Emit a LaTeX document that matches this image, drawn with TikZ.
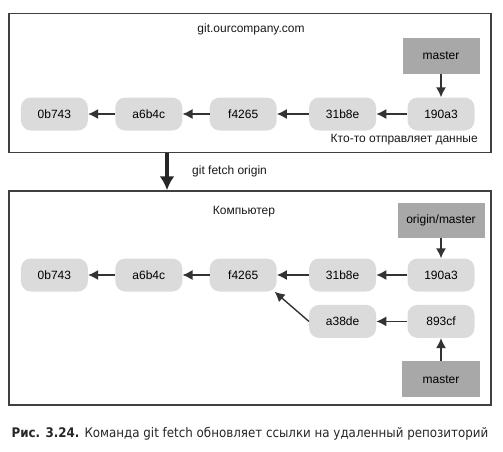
\documentclass[tikz,border=0pt]{standalone}
\usepackage{fontspec}
\setmainfont{Liberation Sans}
\newfontfamily\capfont{DejaVu Sans Condensed}
\usetikzlibrary{positioning,arrows.meta}

\tikzset{
  commit/.style={fill=black!14,rounded corners=10pt,minimum width=67pt,minimum height=33pt,inner sep=0pt,font=\fontsize{12}{14}\selectfont},
  branch/.style={fill=black!34,minimum height=36pt,inner sep=0pt,font=\fontsize{12}{14}\selectfont},
  frame/.style={draw=black!75,line width=1.5pt,inner sep=0pt},
  link/.style={draw=black!80,line width=1.4pt,-{Latex[length=10pt,width=10pt]}},
  big/.style={draw=black!85,line width=4pt,-{Latex[length=14pt,width=15pt]}},
  txt/.style={font=\fontsize{12}{14}\selectfont,text=black!90,inner sep=0pt}
}

\begin{document}
\begin{tikzpicture}[x=1pt,y=-1pt]
      \useasboundingbox (0,0) rectangle (503,451);
      %% frames
      \node[frame,minimum width=482pt,minimum height=139pt] (remote) at (250,83) {};
      \node[frame,minimum width=482pt,minimum height=214pt] (local) at (250,298) {};
      \node[txt] (rt) at (251,29) {git.ourcompany.com};
      \node[txt] (lt) at (244,212) {Компьютер};
      %% remote commits
      \node[commit] (r5) at (441,114) {190a3};
      \node[commit,left=31pt of r5] (r4) {31b8e};
      \node[commit,left=32pt of r4] (r3) {f4265};
      \node[commit,left=27pt of r3] (r2) {a6b4c};
      \node[commit,left=27pt of r2] (r1) {0b743};
      \node[branch,minimum width=77pt,above=23pt of r5] (rm) {master};
      \node[txt,anchor=east] (push) at (478,140) {Кто-то отправляет данные};
      \draw[link] (r5) -- (r4);
      \draw[link] (r4) -- (r3);
      \draw[link] (r3) -- (r2);
      \draw[link] (r2) -- (r1);
      \draw[link] (rm) -- (r5);
      %% fetch
      \coordinate (fx) at (167,0);
      \draw[big] (remote.south -| fx) -- (local.north -| fx);
      \node[txt,anchor=west] (fetch) at (192,171) {git fetch origin};
      %% local commits
      \node[commit] (l5) at (441,275) {190a3};
      \node[commit,left=31pt of l5] (l4) {31b8e};
      \node[commit,left=32pt of l4] (l3) {f4265};
      \node[commit,left=27pt of l3] (l2) {a6b4c};
      \node[commit,left=27pt of l2] (l1) {0b743};
      \node[commit,below=13pt of l5] (l7) {893cf};
      \node[commit,left=31pt of l7] (l6) {a38de};
      \node[branch,minimum width=87pt,minimum height=35pt,above=20pt of l5] (om) {origin/master};
      \node[branch,minimum width=78pt,below=23pt of l7] (lm) {master};
      \draw[link] (l5) -- (l4);
      \draw[link] (l4) -- (l3);
      \draw[link] (l3) -- (l2);
      \draw[link] (l2) -- (l1);
      \draw[link] (l7) -- (l6);
      \draw[link] (l6.west) -- (l3.-28);
      \draw[link] (om) -- (l5);
      \draw[link] (lm) -- (l7);
      %% caption
      \node[font=\capfont\fontsize{13.2}{16}\selectfont,text=black!85,inner sep=0pt] (cap) at (250,434)
        {\textbf{Рис. 3.24.} Команда git fetch обновляет ссылки на удаленный репозиторий};
\end{tikzpicture}
\end{document}
